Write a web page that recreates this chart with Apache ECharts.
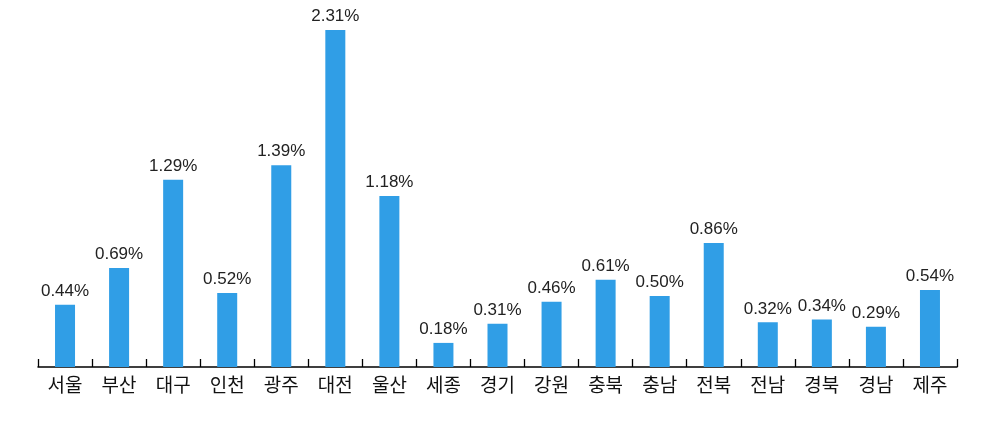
<!DOCTYPE html>
<html><head><meta charset="utf-8">
<script src="https://cdn.jsdelivr.net/npm/echarts@6/dist/echarts.min.js"></script>
<style>html,body{margin:0;padding:0;background:#fff}#c{width:984px;height:433px}</style>
</head><body><div id="c"></div>
<script>
const categories = ['서울','부산','대구','인천','광주','대전','울산','세종','경기','강원','충북','충남','전북','전남','경북','경남','제주'];
const values = [0.44,0.69,1.29,0.52,1.39,2.31,1.18,0.18,0.31,0.46,0.61,0.50,0.86,0.32,0.34,0.29,0.54];
const chart = echarts.init(document.getElementById('c'));
chart.setOption({
  animation:false,
  grid:{left:38,right:27,top:30,bottom:66},
  xAxis:{type:'category',data:categories,boundaryGap:true,
    axisLine:{show:true,lineStyle:{color:'#000',width:1.5}},
    axisTick:{show:true,inside:true,length:8,alignWithLabel:false,lineStyle:{color:'#000',width:1.3}},
    axisLabel:{color:'#111',fontSize:19,margin:8,fontFamily:'Noto Sans CJK KR'}},
  yAxis:{type:'value',min:0.016,max:2.31,show:false,splitLine:{show:false}},
  series:[{type:'bar',data:values,barWidth:20,itemStyle:{color:'#309EE6'},
    label:{show:true,position:'top',distance:5,color:'#222',fontSize:17,fontFamily:'Liberation Sans',
      formatter:p=>p.value.toFixed(2)+'%'}}]
});
</script></body></html>
